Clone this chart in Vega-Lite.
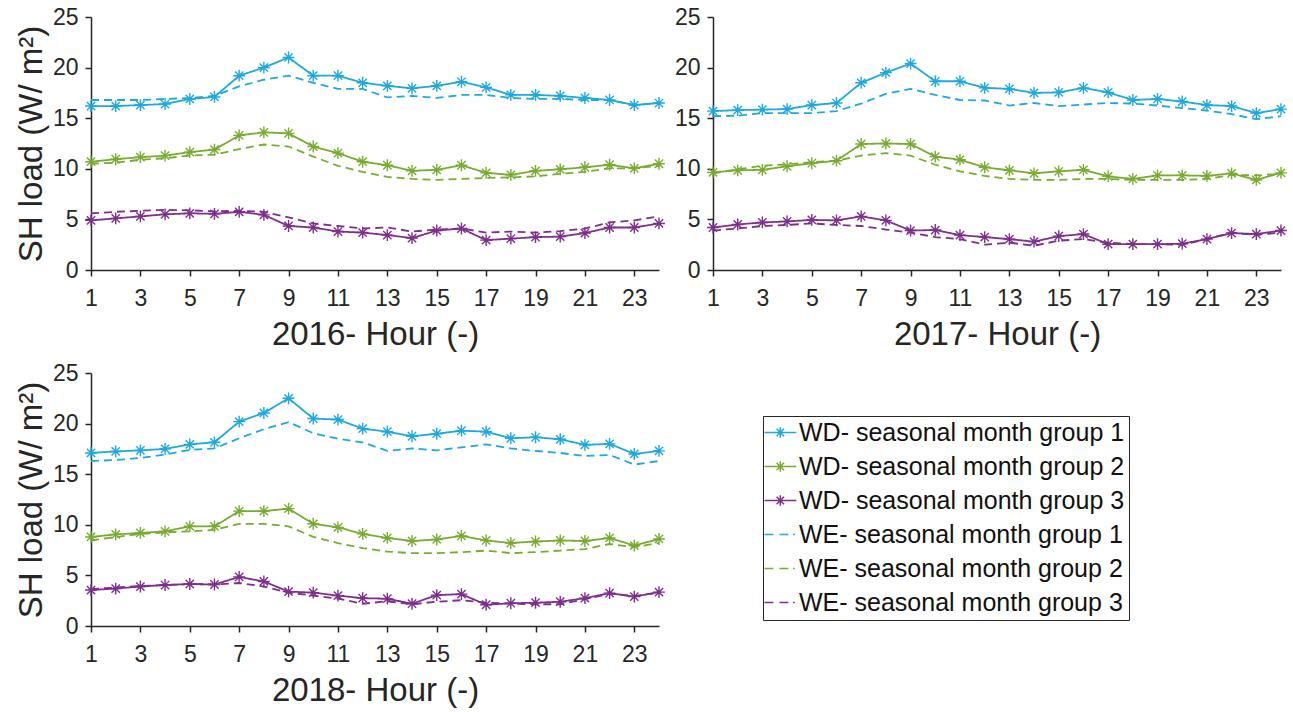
{
"$schema": "https://vega.github.io/schema/vega-lite/v6.json",
"padding": {"left": 15, "top": 6, "right": 4, "bottom": 2},
"background": "white",
"config": {
  "view": {"stroke": null},
  "font": "Liberation Sans",
  "axis": {"domainColor": "#262626", "domainWidth": 1.5, "tickColor": "#262626", "tickWidth": 1.5, "tickSize": 6, "labelFontSize": 23, "labelColor": "#262626", "labelFont": "Liberation Sans", "titleFont": "Liberation Sans", "titleFontSize": 33, "titleFontWeight": "normal", "titleColor": "#262626", "grid": false, "labelFlush": false, "labelOverlap": false},
  "axisX": {"labelPadding": 11, "titlePadding": 8},
  "axisY": {"labelPadding": 7, "titlePadding": 4}
},
"datasets": {
"d2016": [
{"h":1,"s":"WD1","v":16.2},{"h":2,"s":"WD1","v":16.2},{"h":3,"s":"WD1","v":16.3},{"h":4,"s":"WD1","v":16.4},{"h":5,"s":"WD1","v":16.9},{"h":6,"s":"WD1","v":17.1},{"h":7,"s":"WD1","v":19.2},{"h":8,"s":"WD1","v":20.0},{"h":9,"s":"WD1","v":21.0},{"h":10,"s":"WD1","v":19.2},{"h":11,"s":"WD1","v":19.2},{"h":12,"s":"WD1","v":18.5},{"h":13,"s":"WD1","v":18.2},{"h":14,"s":"WD1","v":17.95},{"h":15,"s":"WD1","v":18.2},{"h":16,"s":"WD1","v":18.6},{"h":17,"s":"WD1","v":18.05},{"h":18,"s":"WD1","v":17.3},{"h":19,"s":"WD1","v":17.3},{"h":20,"s":"WD1","v":17.2},{"h":21,"s":"WD1","v":17.0},{"h":22,"s":"WD1","v":16.8},{"h":23,"s":"WD1","v":16.3},{"h":24,"s":"WD1","v":16.5},
{"h":1,"s":"WE1","v":16.8},{"h":2,"s":"WE1","v":16.8},{"h":3,"s":"WE1","v":16.8},{"h":4,"s":"WE1","v":16.9},{"h":5,"s":"WE1","v":17.0},{"h":6,"s":"WE1","v":17.2},{"h":7,"s":"WE1","v":18.15},{"h":8,"s":"WE1","v":18.8},{"h":9,"s":"WE1","v":19.2},{"h":10,"s":"WE1","v":18.5},{"h":11,"s":"WE1","v":17.9},{"h":12,"s":"WE1","v":17.9},{"h":13,"s":"WE1","v":17.05},{"h":14,"s":"WE1","v":17.2},{"h":15,"s":"WE1","v":17.0},{"h":16,"s":"WE1","v":17.3},{"h":17,"s":"WE1","v":17.3},{"h":18,"s":"WE1","v":17.0},{"h":19,"s":"WE1","v":16.9},{"h":20,"s":"WE1","v":16.9},{"h":21,"s":"WE1","v":16.8},{"h":22,"s":"WE1","v":16.8},{"h":23,"s":"WE1","v":16.3},{"h":24,"s":"WE1","v":16.5},
{"h":1,"s":"WD2","v":10.7},{"h":2,"s":"WD2","v":10.95},{"h":3,"s":"WD2","v":11.15},{"h":4,"s":"WD2","v":11.3},{"h":5,"s":"WD2","v":11.65},{"h":6,"s":"WD2","v":11.9},{"h":7,"s":"WD2","v":13.3},{"h":8,"s":"WD2","v":13.6},{"h":9,"s":"WD2","v":13.5},{"h":10,"s":"WD2","v":12.2},{"h":11,"s":"WD2","v":11.55},{"h":12,"s":"WD2","v":10.7},{"h":13,"s":"WD2","v":10.35},{"h":14,"s":"WD2","v":9.8},{"h":15,"s":"WD2","v":9.9},{"h":16,"s":"WD2","v":10.35},{"h":17,"s":"WD2","v":9.6},{"h":18,"s":"WD2","v":9.4},{"h":19,"s":"WD2","v":9.8},{"h":20,"s":"WD2","v":9.95},{"h":21,"s":"WD2","v":10.15},{"h":22,"s":"WD2","v":10.4},{"h":23,"s":"WD2","v":10.05},{"h":24,"s":"WD2","v":10.5},
{"h":1,"s":"WE2","v":10.5},{"h":2,"s":"WE2","v":10.6},{"h":3,"s":"WE2","v":10.9},{"h":4,"s":"WE2","v":11.05},{"h":5,"s":"WE2","v":11.3},{"h":6,"s":"WE2","v":11.4},{"h":7,"s":"WE2","v":11.95},{"h":8,"s":"WE2","v":12.4},{"h":9,"s":"WE2","v":12.2},{"h":10,"s":"WE2","v":11.2},{"h":11,"s":"WE2","v":10.3},{"h":12,"s":"WE2","v":9.7},{"h":13,"s":"WE2","v":9.2},{"h":14,"s":"WE2","v":9.0},{"h":15,"s":"WE2","v":8.9},{"h":16,"s":"WE2","v":9.0},{"h":17,"s":"WE2","v":9.1},{"h":18,"s":"WE2","v":9.15},{"h":19,"s":"WE2","v":9.25},{"h":20,"s":"WE2","v":9.5},{"h":21,"s":"WE2","v":9.7},{"h":22,"s":"WE2","v":10.05},{"h":23,"s":"WE2","v":10.05},{"h":24,"s":"WE2","v":10.3},
{"h":1,"s":"WD3","v":4.9},{"h":2,"s":"WD3","v":5.1},{"h":3,"s":"WD3","v":5.3},{"h":4,"s":"WD3","v":5.5},{"h":5,"s":"WD3","v":5.6},{"h":6,"s":"WD3","v":5.55},{"h":7,"s":"WD3","v":5.75},{"h":8,"s":"WD3","v":5.45},{"h":9,"s":"WD3","v":4.35},{"h":10,"s":"WD3","v":4.2},{"h":11,"s":"WD3","v":3.8},{"h":12,"s":"WD3","v":3.7},{"h":13,"s":"WD3","v":3.45},{"h":14,"s":"WD3","v":3.15},{"h":15,"s":"WD3","v":3.9},{"h":16,"s":"WD3","v":4.1},{"h":17,"s":"WD3","v":2.95},{"h":18,"s":"WD3","v":3.1},{"h":19,"s":"WD3","v":3.25},{"h":20,"s":"WD3","v":3.3},{"h":21,"s":"WD3","v":3.65},{"h":22,"s":"WD3","v":4.2},{"h":23,"s":"WD3","v":4.2},{"h":24,"s":"WD3","v":4.6},
{"h":1,"s":"WE3","v":5.6},{"h":2,"s":"WE3","v":5.75},{"h":3,"s":"WE3","v":5.85},{"h":4,"s":"WE3","v":5.95},{"h":5,"s":"WE3","v":5.9},{"h":6,"s":"WE3","v":5.8},{"h":7,"s":"WE3","v":5.85},{"h":8,"s":"WE3","v":5.75},{"h":9,"s":"WE3","v":5.2},{"h":10,"s":"WE3","v":4.6},{"h":11,"s":"WE3","v":4.35},{"h":12,"s":"WE3","v":4.1},{"h":13,"s":"WE3","v":4.2},{"h":14,"s":"WE3","v":3.8},{"h":15,"s":"WE3","v":4.0},{"h":16,"s":"WE3","v":4.1},{"h":17,"s":"WE3","v":3.7},{"h":18,"s":"WE3","v":3.8},{"h":19,"s":"WE3","v":3.7},{"h":20,"s":"WE3","v":3.85},{"h":21,"s":"WE3","v":4.1},{"h":22,"s":"WE3","v":4.7},{"h":23,"s":"WE3","v":4.9},{"h":24,"s":"WE3","v":5.3}
],
"d2017": [
{"h":1,"s":"WD1","v":15.7},{"h":2,"s":"WD1","v":15.8},{"h":3,"s":"WD1","v":15.85},{"h":4,"s":"WD1","v":15.9},{"h":5,"s":"WD1","v":16.3},{"h":6,"s":"WD1","v":16.5},{"h":7,"s":"WD1","v":18.5},{"h":8,"s":"WD1","v":19.5},{"h":9,"s":"WD1","v":20.4},{"h":10,"s":"WD1","v":18.65},{"h":11,"s":"WD1","v":18.65},{"h":12,"s":"WD1","v":18.0},{"h":13,"s":"WD1","v":17.9},{"h":14,"s":"WD1","v":17.5},{"h":15,"s":"WD1","v":17.55},{"h":16,"s":"WD1","v":18.0},{"h":17,"s":"WD1","v":17.55},{"h":18,"s":"WD1","v":16.8},{"h":19,"s":"WD1","v":16.9},{"h":20,"s":"WD1","v":16.65},{"h":21,"s":"WD1","v":16.3},{"h":22,"s":"WD1","v":16.2},{"h":23,"s":"WD1","v":15.5},{"h":24,"s":"WD1","v":15.9},
{"h":1,"s":"WE1","v":15.2},{"h":2,"s":"WE1","v":15.25},{"h":3,"s":"WE1","v":15.5},{"h":4,"s":"WE1","v":15.5},{"h":5,"s":"WE1","v":15.5},{"h":6,"s":"WE1","v":15.7},{"h":7,"s":"WE1","v":16.45},{"h":8,"s":"WE1","v":17.4},{"h":9,"s":"WE1","v":17.9},{"h":10,"s":"WE1","v":17.3},{"h":11,"s":"WE1","v":16.8},{"h":12,"s":"WE1","v":16.75},{"h":13,"s":"WE1","v":16.25},{"h":14,"s":"WE1","v":16.5},{"h":15,"s":"WE1","v":16.2},{"h":16,"s":"WE1","v":16.35},{"h":17,"s":"WE1","v":16.5},{"h":18,"s":"WE1","v":16.45},{"h":19,"s":"WE1","v":16.25},{"h":20,"s":"WE1","v":16.0},{"h":21,"s":"WE1","v":15.75},{"h":22,"s":"WE1","v":15.4},{"h":23,"s":"WE1","v":14.9},{"h":24,"s":"WE1","v":15.2},
{"h":1,"s":"WD2","v":9.65},{"h":2,"s":"WD2","v":9.85},{"h":3,"s":"WD2","v":9.9},{"h":4,"s":"WD2","v":10.25},{"h":5,"s":"WD2","v":10.55},{"h":6,"s":"WD2","v":10.8},{"h":7,"s":"WD2","v":12.45},{"h":8,"s":"WD2","v":12.5},{"h":9,"s":"WD2","v":12.45},{"h":10,"s":"WD2","v":11.2},{"h":11,"s":"WD2","v":10.9},{"h":12,"s":"WD2","v":10.15},{"h":13,"s":"WD2","v":9.85},{"h":14,"s":"WD2","v":9.55},{"h":15,"s":"WD2","v":9.75},{"h":16,"s":"WD2","v":9.9},{"h":17,"s":"WD2","v":9.25},{"h":18,"s":"WD2","v":9.0},{"h":19,"s":"WD2","v":9.35},{"h":20,"s":"WD2","v":9.35},{"h":21,"s":"WD2","v":9.3},{"h":22,"s":"WD2","v":9.55},{"h":23,"s":"WD2","v":8.9},{"h":24,"s":"WD2","v":9.6},
{"h":1,"s":"WE2","v":9.55},{"h":2,"s":"WE2","v":9.95},{"h":3,"s":"WE2","v":10.3},{"h":4,"s":"WE2","v":10.45},{"h":5,"s":"WE2","v":10.65},{"h":6,"s":"WE2","v":10.8},{"h":7,"s":"WE2","v":11.3},{"h":8,"s":"WE2","v":11.55},{"h":9,"s":"WE2","v":11.3},{"h":10,"s":"WE2","v":10.4},{"h":11,"s":"WE2","v":9.75},{"h":12,"s":"WE2","v":9.3},{"h":13,"s":"WE2","v":9.0},{"h":14,"s":"WE2","v":8.9},{"h":15,"s":"WE2","v":8.9},{"h":16,"s":"WE2","v":9.0},{"h":17,"s":"WE2","v":9.0},{"h":18,"s":"WE2","v":8.9},{"h":19,"s":"WE2","v":8.9},{"h":20,"s":"WE2","v":8.9},{"h":21,"s":"WE2","v":9.0},{"h":22,"s":"WE2","v":9.4},{"h":23,"s":"WE2","v":9.35},{"h":24,"s":"WE2","v":9.5},
{"h":1,"s":"WD3","v":4.2},{"h":2,"s":"WD3","v":4.5},{"h":3,"s":"WD3","v":4.7},{"h":4,"s":"WD3","v":4.8},{"h":5,"s":"WD3","v":4.95},{"h":6,"s":"WD3","v":4.9},{"h":7,"s":"WD3","v":5.3},{"h":8,"s":"WD3","v":4.9},{"h":9,"s":"WD3","v":3.9},{"h":10,"s":"WD3","v":3.95},{"h":11,"s":"WD3","v":3.45},{"h":12,"s":"WD3","v":3.25},{"h":13,"s":"WD3","v":3.05},{"h":14,"s":"WD3","v":2.8},{"h":15,"s":"WD3","v":3.35},{"h":16,"s":"WD3","v":3.55},{"h":17,"s":"WD3","v":2.55},{"h":18,"s":"WD3","v":2.55},{"h":19,"s":"WD3","v":2.55},{"h":20,"s":"WD3","v":2.6},{"h":21,"s":"WD3","v":3.05},{"h":22,"s":"WD3","v":3.65},{"h":23,"s":"WD3","v":3.55},{"h":24,"s":"WD3","v":3.9},
{"h":1,"s":"WE3","v":3.9},{"h":2,"s":"WE3","v":4.1},{"h":3,"s":"WE3","v":4.35},{"h":4,"s":"WE3","v":4.45},{"h":5,"s":"WE3","v":4.6},{"h":6,"s":"WE3","v":4.45},{"h":7,"s":"WE3","v":4.35},{"h":8,"s":"WE3","v":4.0},{"h":9,"s":"WE3","v":3.7},{"h":10,"s":"WE3","v":3.25},{"h":11,"s":"WE3","v":3.05},{"h":12,"s":"WE3","v":2.5},{"h":13,"s":"WE3","v":2.7},{"h":14,"s":"WE3","v":2.4},{"h":15,"s":"WE3","v":2.9},{"h":16,"s":"WE3","v":3.05},{"h":17,"s":"WE3","v":2.7},{"h":18,"s":"WE3","v":2.55},{"h":19,"s":"WE3","v":2.55},{"h":20,"s":"WE3","v":2.5},{"h":21,"s":"WE3","v":3.05},{"h":22,"s":"WE3","v":3.7},{"h":23,"s":"WE3","v":3.45},{"h":24,"s":"WE3","v":3.7}
],
"d2018": [
{"h":1,"s":"WD1","v":17.1},{"h":2,"s":"WD1","v":17.25},{"h":3,"s":"WD1","v":17.35},{"h":4,"s":"WD1","v":17.5},{"h":5,"s":"WD1","v":17.95},{"h":6,"s":"WD1","v":18.15},{"h":7,"s":"WD1","v":20.2},{"h":8,"s":"WD1","v":21.05},{"h":9,"s":"WD1","v":22.5},{"h":10,"s":"WD1","v":20.5},{"h":11,"s":"WD1","v":20.4},{"h":12,"s":"WD1","v":19.5},{"h":13,"s":"WD1","v":19.2},{"h":14,"s":"WD1","v":18.75},{"h":15,"s":"WD1","v":19.0},{"h":16,"s":"WD1","v":19.3},{"h":17,"s":"WD1","v":19.2},{"h":18,"s":"WD1","v":18.55},{"h":19,"s":"WD1","v":18.65},{"h":20,"s":"WD1","v":18.45},{"h":21,"s":"WD1","v":17.9},{"h":22,"s":"WD1","v":18.0},{"h":23,"s":"WD1","v":17.0},{"h":24,"s":"WD1","v":17.3},
{"h":1,"s":"WE1","v":16.3},{"h":2,"s":"WE1","v":16.4},{"h":3,"s":"WE1","v":16.6},{"h":4,"s":"WE1","v":16.95},{"h":5,"s":"WE1","v":17.4},{"h":6,"s":"WE1","v":17.55},{"h":7,"s":"WE1","v":18.55},{"h":8,"s":"WE1","v":19.45},{"h":9,"s":"WE1","v":20.15},{"h":10,"s":"WE1","v":19.05},{"h":11,"s":"WE1","v":18.5},{"h":12,"s":"WE1","v":18.15},{"h":13,"s":"WE1","v":17.3},{"h":14,"s":"WE1","v":17.55},{"h":15,"s":"WE1","v":17.35},{"h":16,"s":"WE1","v":17.65},{"h":17,"s":"WE1","v":17.95},{"h":18,"s":"WE1","v":17.55},{"h":19,"s":"WE1","v":17.3},{"h":20,"s":"WE1","v":17.1},{"h":21,"s":"WE1","v":16.8},{"h":22,"s":"WE1","v":16.9},{"h":23,"s":"WE1","v":15.95},{"h":24,"s":"WE1","v":16.3},
{"h":1,"s":"WD2","v":8.8},{"h":2,"s":"WD2","v":9.05},{"h":3,"s":"WD2","v":9.2},{"h":4,"s":"WD2","v":9.35},{"h":5,"s":"WD2","v":9.85},{"h":6,"s":"WD2","v":9.85},{"h":7,"s":"WD2","v":11.35},{"h":8,"s":"WD2","v":11.35},{"h":9,"s":"WD2","v":11.6},{"h":10,"s":"WD2","v":10.1},{"h":11,"s":"WD2","v":9.75},{"h":12,"s":"WD2","v":9.1},{"h":13,"s":"WD2","v":8.7},{"h":14,"s":"WD2","v":8.4},{"h":15,"s":"WD2","v":8.55},{"h":16,"s":"WD2","v":8.9},{"h":17,"s":"WD2","v":8.45},{"h":18,"s":"WD2","v":8.2},{"h":19,"s":"WD2","v":8.35},{"h":20,"s":"WD2","v":8.45},{"h":21,"s":"WD2","v":8.4},{"h":22,"s":"WD2","v":8.7},{"h":23,"s":"WD2","v":7.95},{"h":24,"s":"WD2","v":8.6},
{"h":1,"s":"WE2","v":8.45},{"h":2,"s":"WE2","v":8.8},{"h":3,"s":"WE2","v":9.1},{"h":4,"s":"WE2","v":9.25},{"h":5,"s":"WE2","v":9.35},{"h":6,"s":"WE2","v":9.5},{"h":7,"s":"WE2","v":10.1},{"h":8,"s":"WE2","v":10.1},{"h":9,"s":"WE2","v":9.85},{"h":10,"s":"WE2","v":8.8},{"h":11,"s":"WE2","v":8.2},{"h":12,"s":"WE2","v":7.7},{"h":13,"s":"WE2","v":7.35},{"h":14,"s":"WE2","v":7.2},{"h":15,"s":"WE2","v":7.2},{"h":16,"s":"WE2","v":7.3},{"h":17,"s":"WE2","v":7.45},{"h":18,"s":"WE2","v":7.2},{"h":19,"s":"WE2","v":7.3},{"h":20,"s":"WE2","v":7.45},{"h":21,"s":"WE2","v":7.6},{"h":22,"s":"WE2","v":8.1},{"h":23,"s":"WE2","v":7.8},{"h":24,"s":"WE2","v":8.2},
{"h":1,"s":"WD3","v":3.55},{"h":2,"s":"WD3","v":3.7},{"h":3,"s":"WD3","v":3.9},{"h":4,"s":"WD3","v":4.05},{"h":5,"s":"WD3","v":4.15},{"h":6,"s":"WD3","v":4.1},{"h":7,"s":"WD3","v":4.85},{"h":8,"s":"WD3","v":4.4},{"h":9,"s":"WD3","v":3.4},{"h":10,"s":"WD3","v":3.3},{"h":11,"s":"WD3","v":3.0},{"h":12,"s":"WD3","v":2.75},{"h":13,"s":"WD3","v":2.7},{"h":14,"s":"WD3","v":2.2},{"h":15,"s":"WD3","v":3.05},{"h":16,"s":"WD3","v":3.15},{"h":17,"s":"WD3","v":2.1},{"h":18,"s":"WD3","v":2.25},{"h":19,"s":"WD3","v":2.3},{"h":20,"s":"WD3","v":2.4},{"h":21,"s":"WD3","v":2.75},{"h":22,"s":"WD3","v":3.25},{"h":23,"s":"WD3","v":2.9},{"h":24,"s":"WD3","v":3.35},
{"h":1,"s":"WE3","v":3.65},{"h":2,"s":"WE3","v":3.8},{"h":3,"s":"WE3","v":3.95},{"h":4,"s":"WE3","v":4.05},{"h":5,"s":"WE3","v":4.15},{"h":6,"s":"WE3","v":4.1},{"h":7,"s":"WE3","v":4.25},{"h":8,"s":"WE3","v":3.9},{"h":9,"s":"WE3","v":3.3},{"h":10,"s":"WE3","v":3.0},{"h":11,"s":"WE3","v":2.7},{"h":12,"s":"WE3","v":2.2},{"h":13,"s":"WE3","v":2.45},{"h":14,"s":"WE3","v":2.15},{"h":15,"s":"WE3","v":2.4},{"h":16,"s":"WE3","v":2.55},{"h":17,"s":"WE3","v":2.3},{"h":18,"s":"WE3","v":2.2},{"h":19,"s":"WE3","v":2.15},{"h":20,"s":"WE3","v":2.15},{"h":21,"s":"WE3","v":2.65},{"h":22,"s":"WE3","v":3.2},{"h":23,"s":"WE3","v":2.95},{"h":24,"s":"WE3","v":3.3}
]
},
"spacing": 11,
"resolve": {"legend": {"color": "independent"}},
"vconcat": [
{
 "spacing": 6,
 "hconcat": [
  {
   "width": 568, "height": 253,
   "data": {"name": "d2016"},
   "encoding": {
     "x": {"field": "h", "type": "quantitative", "scale": {"domain": [1, 24], "nice": false, "zero": false}, "axis": {"values": [1,3,5,7,9,11,13,15,17,19,21,23], "title": "2016- Hour (-)"}},
     "y": {"field": "v", "type": "quantitative", "scale": {"domain": [0, 25], "nice": false}, "axis": {"values": [0,5,10,15,20,25], "title": "SH load (W/ m²)"}},
     "color": {"field": "s", "type": "nominal", "scale": {"domain": ["WD1","WD2","WD3","WE1","WE2","WE3"], "range": ["#1DA8E2","#77AC30","#7E2F8E","#1DA8E2","#77AC30","#7E2F8E"]}, "legend": null}
   },
   "layer": [
     {"mark": {"type": "line", "strokeWidth": 1.8}, "encoding": {"strokeDash": {"field": "s", "type": "nominal", "scale": {"domain": ["WD1","WD2","WD3","WE1","WE2","WE3"], "range": [[1,0],[1,0],[1,0],[8,5],[8,5],[8,5]]}, "legend": null}}},
     {"transform": [{"filter": "indexof(datum.s,'WD')===0"}], "mark": {"type": "point", "shape": "M-1,0L1,0M0,-1L0,1M-0.7,-0.7L0.7,0.7M-0.7,0.7L0.7,-0.7", "filled": false, "size": 140, "strokeWidth": 1.4, "opacity": 1}}
   ]
  },
  {
   "width": 568, "height": 253,
   "data": {"name": "d2017"},
   "encoding": {
     "x": {"field": "h", "type": "quantitative", "scale": {"domain": [1, 24], "nice": false, "zero": false}, "axis": {"values": [1,3,5,7,9,11,13,15,17,19,21,23], "title": "2017- Hour (-)"}},
     "y": {"field": "v", "type": "quantitative", "scale": {"domain": [0, 25], "nice": false}, "axis": {"values": [0,5,10,15,20,25], "title": null}},
     "color": {"field": "s", "type": "nominal", "scale": {"domain": ["WD1","WD2","WD3","WE1","WE2","WE3"], "range": ["#1DA8E2","#77AC30","#7E2F8E","#1DA8E2","#77AC30","#7E2F8E"]}, "legend": null}
   },
   "layer": [
     {"mark": {"type": "line", "strokeWidth": 1.8}, "encoding": {"strokeDash": {"field": "s", "type": "nominal", "scale": {"domain": ["WD1","WD2","WD3","WE1","WE2","WE3"], "range": [[1,0],[1,0],[1,0],[8,5],[8,5],[8,5]]}, "legend": null}}},
     {"transform": [{"filter": "indexof(datum.s,'WD')===0"}], "mark": {"type": "point", "shape": "M-1,0L1,0M0,-1L0,1M-0.7,-0.7L0.7,0.7M-0.7,0.7L0.7,-0.7", "filled": false, "size": 140, "strokeWidth": 1.4, "opacity": 1}}
   ]
  }
 ]
},
{
 "width": 568, "height": 253,
 "data": {"name": "d2018"},
 "encoding": {
   "x": {"field": "h", "type": "quantitative", "scale": {"domain": [1, 24], "nice": false, "zero": false}, "axis": {"values": [1,3,5,7,9,11,13,15,17,19,21,23], "title": "2018- Hour (-)"}},
   "y": {"field": "v", "type": "quantitative", "scale": {"domain": [0, 25], "nice": false}, "axis": {"values": [0,5,10,15,20,25], "title": "SH load (W/ m²)"}},
   "color": {"field": "s", "type": "nominal", "scale": {"domain": ["WD1","WD2","WD3","WE1","WE2","WE3"], "range": ["#1DA8E2","#77AC30","#7E2F8E","#1DA8E2","#77AC30","#7E2F8E"]},
     "legend": {"orient": "none", "legendX": 672, "legendY": 43, "title": null, "labelFontSize": 25, "labelColor": "#111111", "labelFont": "Liberation Sans", "labelOffset": 7, "labelLimit": 500, "rowPadding": 8, "padding": 4, "strokeColor": "#262626", "fillColor": "white", "symbolSize": 100, "symbolStrokeWidth": 1.5, "symbolOpacity": 1, "symbolFillColor": "transparent",
       "labelExpr": "(indexof(datum.label,'WD')===0 ? 'WD' : 'WE') + '- seasonal month group ' + slice(datum.label,2)",
       "encode": {"symbols": {"update": {"x": {"value": 0}, "shape": {"signal": "indexof(datum.value,'WD')===0 ? 'M-0.5,0L5.86,0M2.66,-1.05L2.66,1.05M1.92,-0.74L3.4,0.74M1.92,0.74L3.4,-0.74' : 'M-0.5,0L1.28,0M2.5,0L4.27,0M5.2,0L5.55,0'"}, "strokeDash": {"value": [1,0]}}}}}
   }
 },
 "layer": [
   {"mark": {"type": "line", "strokeWidth": 1.8}, "encoding": {"strokeDash": {"field": "s", "type": "nominal", "scale": {"domain": ["WD1","WD2","WD3","WE1","WE2","WE3"], "range": [[1,0],[1,0],[1,0],[8,5],[8,5],[8,5]]}, "legend": null}}},
   {"transform": [{"filter": "indexof(datum.s,'WD')===0"}], "mark": {"type": "point", "shape": "M-1,0L1,0M0,-1L0,1M-0.7,-0.7L0.7,0.7M-0.7,0.7L0.7,-0.7", "filled": false, "size": 140, "strokeWidth": 1.4, "opacity": 1}}
 ]
}
]
}
